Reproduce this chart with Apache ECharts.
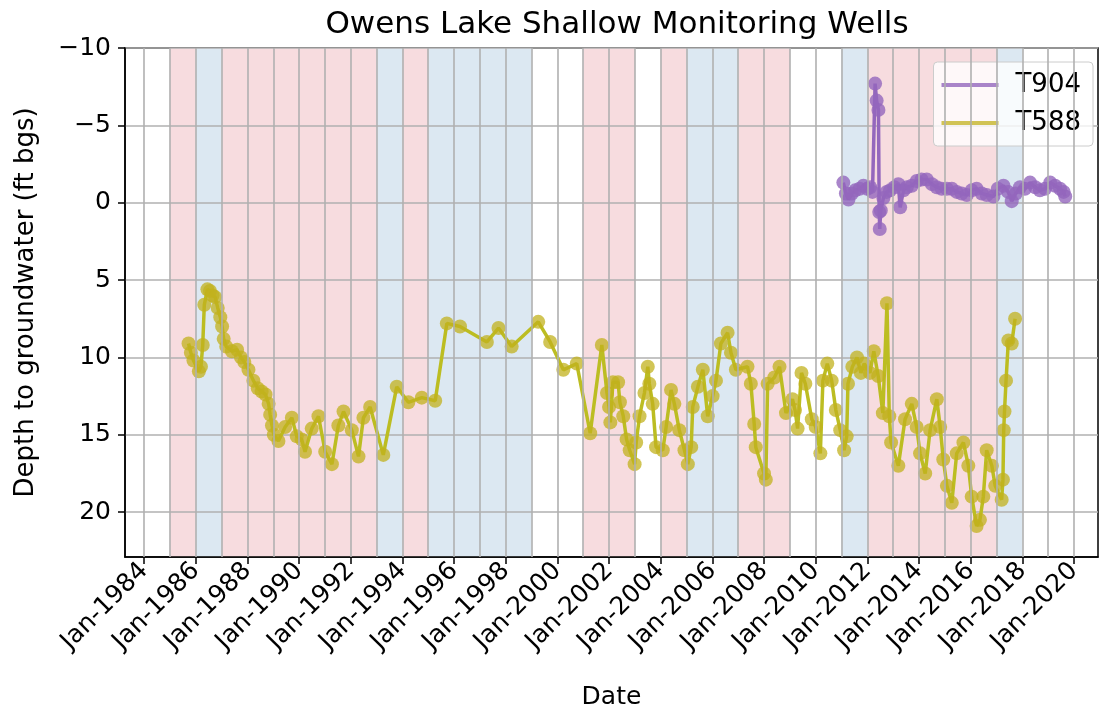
<!DOCTYPE html>
<html>
<head>
<meta charset="utf-8">
<title>Owens Lake Shallow Monitoring Wells</title>
<script src="https://cdn.jsdelivr.net/npm/echarts@6/dist/echarts.min.js"></script>
<style>
  html, body { margin: 0; padding: 0; background: #fff; }
  #chart { width: 1101px; height: 715px; }
</style>
</head>
<body>
<div id="chart"></div>
<script>
// water-year classification used for the background bands
const dryYears = [1985, 1987, 1988, 1989, 1990, 1991, 1992, 1994, 2001, 2002, 2004, 2007, 2008, 2012, 2013, 2014, 2015, 2016];
const wetYears = [1986, 1993, 1995, 1996, 1997, 1998, 2005, 2006, 2011, 2017];
const gridYears = [1984, 1985, 1986, 1987, 1988, 1989, 1990, 1991, 1992, 1993, 1994, 1995, 1996, 1997, 1998, 1999, 2000,
  2001, 2002, 2003, 2004, 2005, 2006, 2007, 2008, 2009, 2010, 2011, 2012, 2013, 2014, 2015, 2016, 2017, 2018, 2019, 2020];
const labelYears = [1984, 1986, 1988, 1990, 1992, 1994, 1996, 1998, 2000, 2002, 2004, 2006, 2008, 2010, 2012, 2014, 2016, 2018, 2020];
const depthTicks = [-10, -5, 0, 5, 10, 15, 20];

// [decimal year, depth to groundwater ft bgs]
const t904 = [
  [2011.07, -1.3], [2011.17, -0.6], [2011.27, -0.2], [2011.4, -0.6], [2011.53, -0.8], [2011.7, -0.9],
  [2011.85, -1.1], [2012.0, -0.9], [2012.11, -1.0], [2012.2, -0.7], [2012.3, -7.7], [2012.36, -6.6],
  [2012.43, -6.0], [2012.46, 0.6], [2012.48, 1.7], [2012.52, 0.5], [2012.62, -0.3], [2012.75, -0.7],
  [2012.88, -0.8], [2013.05, -1.0], [2013.2, -1.2], [2013.27, 0.3], [2013.4, -0.8], [2013.53, -1.0],
  [2013.72, -1.1], [2013.91, -1.4], [2014.1, -1.5], [2014.3, -1.5], [2014.5, -1.2], [2014.69, -1.0],
  [2014.88, -0.9], [2015.08, -0.9], [2015.27, -0.9], [2015.46, -0.7], [2015.65, -0.6], [2015.85, -0.5],
  [2016.04, -0.8], [2016.23, -0.9], [2016.43, -0.6], [2016.62, -0.5], [2016.88, -0.4], [2017.05, -0.9],
  [2017.27, -1.1], [2017.45, -0.7], [2017.59, -0.1], [2017.75, -0.6], [2017.91, -1.0], [2018.1, -0.9],
  [2018.3, -1.3], [2018.5, -1.0], [2018.68, -0.8], [2018.88, -0.9], [2019.08, -1.3], [2019.27, -1.1],
  [2019.46, -0.9], [2019.6, -0.7], [2019.66, -0.4]
];

const t588 = [
  [1985.72, 9.1], [1985.81, 9.7], [1985.91, 10.2], [1986.12, 10.9], [1986.2, 10.6], [1986.27, 9.2],
  [1986.33, 6.6], [1986.45, 5.6], [1986.55, 5.7], [1986.65, 6.0], [1986.75, 6.1], [1986.85, 6.8],
  [1986.95, 7.4], [1987.02, 8.0], [1987.08, 8.8], [1987.18, 9.3], [1987.4, 9.6], [1987.6, 9.5],
  [1987.75, 10.0], [1987.88, 10.3], [1988.04, 10.8], [1988.23, 11.5], [1988.4, 12.0], [1988.55, 12.2],
  [1988.7, 12.4], [1988.82, 13.0], [1988.88, 13.7], [1988.95, 14.4], [1989.02, 15.0], [1989.2, 15.4],
  [1989.46, 14.5], [1989.72, 13.9], [1989.91, 15.1], [1990.1, 15.3], [1990.23, 16.1], [1990.49, 14.6],
  [1990.75, 13.8], [1991.01, 16.1], [1991.27, 16.9], [1991.52, 14.4], [1991.72, 13.5], [1992.04, 14.7],
  [1992.3, 16.4], [1992.49, 13.9], [1992.75, 13.2], [1993.26, 16.3], [1993.78, 11.9], [1994.23, 12.9],
  [1994.75, 12.6], [1995.27, 12.8], [1995.72, 7.8], [1996.23, 8.0], [1997.27, 9.0], [1997.72, 8.1],
  [1998.23, 9.3], [1999.26, 7.7], [1999.72, 9.0], [2000.23, 10.8], [2000.75, 10.4], [2001.27, 14.9],
  [2001.72, 9.2], [2001.92, 12.3], [2002.0, 13.2], [2002.05, 14.2], [2002.15, 11.6], [2002.35, 11.6],
  [2002.42, 12.9], [2002.55, 13.8], [2002.68, 15.3], [2002.8, 16.0], [2002.99, 16.9], [2003.05, 15.5],
  [2003.18, 13.8], [2003.37, 12.3], [2003.5, 10.6], [2003.56, 11.7], [2003.69, 13.0], [2003.82, 15.8],
  [2004.08, 16.0], [2004.21, 14.5], [2004.4, 12.1], [2004.53, 13.0], [2004.72, 14.7], [2004.92, 16.0],
  [2005.05, 16.9], [2005.18, 15.8], [2005.24, 13.2], [2005.44, 11.9], [2005.63, 10.8], [2005.82, 13.8],
  [2006.01, 12.5], [2006.14, 11.5], [2006.33, 9.1], [2006.59, 8.4], [2006.72, 9.7], [2006.91, 10.8],
  [2007.36, 10.6], [2007.49, 11.7], [2007.62, 14.3], [2007.68, 15.8], [2008.0, 17.5], [2008.07, 17.9],
  [2008.14, 11.7], [2008.4, 11.3], [2008.6, 10.6], [2008.85, 13.6], [2009.1, 12.7], [2009.2, 13.4],
  [2009.3, 14.6], [2009.45, 11.0], [2009.6, 11.7], [2009.85, 14.0], [2010.0, 14.5], [2010.18, 16.2],
  [2010.28, 11.5], [2010.45, 10.4], [2010.62, 11.5], [2010.78, 13.4], [2010.95, 14.7], [2011.1, 16.0],
  [2011.2, 15.1], [2011.25, 11.7], [2011.42, 10.6], [2011.6, 10.0], [2011.75, 11.0], [2011.88, 10.4],
  [2012.1, 11.0], [2012.25, 9.6], [2012.42, 11.2], [2012.6, 13.6], [2012.76, 6.5], [2012.85, 13.8],
  [2012.92, 15.5], [2013.2, 17.0], [2013.46, 14.0], [2013.72, 13.0], [2013.91, 14.5], [2014.04, 16.2],
  [2014.24, 17.5], [2014.43, 14.7], [2014.69, 12.7], [2014.82, 14.5], [2014.94, 16.6], [2015.08, 18.3],
  [2015.27, 19.4], [2015.46, 16.2], [2015.72, 15.5], [2015.91, 17.0], [2016.04, 19.0], [2016.23, 20.9],
  [2016.36, 20.5], [2016.49, 19.0], [2016.62, 16.0], [2016.82, 17.0], [2016.95, 18.3], [2017.2, 19.2],
  [2017.25, 17.9], [2017.28, 14.7], [2017.31, 13.5], [2017.37, 11.5], [2017.46, 8.9], [2017.59, 9.1],
  [2017.72, 7.5]
];

const FONT = 'DejaVu Sans';
const chart = echarts.init(document.getElementById('chart'));

const bands = [];
dryYears.forEach(y => bands.push([{ xAxis: y, itemStyle: { color: '#f7dcdf' } }, { xAxis: y + 1 }]));
wetYears.forEach(y => bands.push([{ xAxis: y, itemStyle: { color: '#dce8f2' } }, { xAxis: y + 1 }]));

const option = {
  animation: false,
  title: {
    text: 'Owens Lake Shallow Monitoring Wells',
    left: 612,
    top: 4,
    textAlign: 'center',
    textStyle: { fontFamily: FONT, fontSize: 31, fontWeight: 'normal', color: '#000' }
  },
  legend: {
    orient: 'vertical',
    right: 8,
    top: 62,
    padding: [10, 12, 10, 8],
    itemGap: 12,
    itemWidth: 57,
    itemHeight: 4,
    icon: 'rect',
    backgroundColor: 'rgba(255,255,255,0.8)',
    borderColor: '#cccccc',
    borderWidth: 1,
    borderRadius: 4,
    textStyle: { fontFamily: FONT, fontSize: 26, color: '#000', padding: [0, 0, 0, 12] },
    data: ['T904', 'T588']
  },
  grid: {
    left: 125,
    right: 3,
    top: 48,
    bottom: 158,
    show: true,
    borderColor: '#000',
    borderWidth: 1.5,
    backgroundColor: 'transparent'
  },
  xAxis: {
    type: 'value',
    min: 1983.26,
    max: 2020.93,
    z: 2,
    name: 'Date',
    nameLocation: 'middle',
    nameGap: 128,
    nameTextStyle: { fontFamily: FONT, fontSize: 25, color: '#000' },
    axisLine: { show: true, onZero: false, lineStyle: { color: '#000', width: 1.5 } },
    axisTick: { show: true, customValues: labelYears, length: 7, lineStyle: { color: '#000', width: 1.5 } },
    axisLabel: {
      customValues: labelYears,
      rotate: 45,
      margin: 10,
      fontFamily: FONT,
      fontSize: 25,
      color: '#000',
      formatter: v => 'Jan-' + Math.round(v)
    },
    splitLine: { show: false }
  },
  yAxis: {
    type: 'value',
    inverse: true,
    min: -10,
    max: 22.9,
    interval: 5,
    z: 2,
    name: 'Depth to groundwater (ft bgs)',
    nameLocation: 'middle',
    nameRotate: 90,
    nameGap: 86,
    nameTextStyle: { fontFamily: FONT, fontSize: 26, color: '#000' },
    axisLine: { show: true, onZero: false, lineStyle: { color: '#000', width: 1.5 } },
    axisTick: { show: true, customValues: depthTicks, length: 7, lineStyle: { color: '#000', width: 1.5 } },
    axisLabel: {
      customValues: depthTicks,
      margin: 14,
      fontFamily: FONT,
      fontSize: 25,
      color: '#000',
      formatter: v => (v < 0 ? '\u2212' + (-v) : String(v))
    },
    splitLine: { show: true, lineStyle: { color: '#b0b0b0', width: 1.6 } }
  },
  series: [
    {
      // background bands (dry / wet years)
      type: 'line',
      z: 1,
      silent: true,
      data: [],
      markArea: { silent: true, data: bands }
    },
    {
      // yearly vertical grid lines
      type: 'line',
      z: 2,
      silent: true,
      data: [],
      markLine: {
        silent: true,
        symbol: ['none', 'none'],
        label: { show: false },
        lineStyle: { color: '#b0b0b0', width: 1.6, type: 'solid' },
        data: gridYears.map(y => ({ xAxis: y }))
      }
    },
    {
      name: 'T904',
      type: 'line',
      z: 4,
      data: t904,
      color: '#9467bd',
      symbol: 'circle',
      symbolSize: 14,
      showAllSymbol: true,
      lineStyle: { color: '#9467bd', width: 3.5 },
      itemStyle: { color: '#9467bd', opacity: 0.8 }
    },
    {
      name: 'T588',
      type: 'line',
      z: 3,
      data: t588,
      color: '#bcbd22',
      symbol: 'circle',
      symbolSize: 14,
      showAllSymbol: true,
      lineStyle: { color: '#bcbd22', width: 3.5 },
      itemStyle: { color: '#c2b21e', opacity: 0.75 }
    }
  ]
};

chart.setOption(option);
window.addEventListener('resize', () => chart.resize());
</script>
</body>
</html>
